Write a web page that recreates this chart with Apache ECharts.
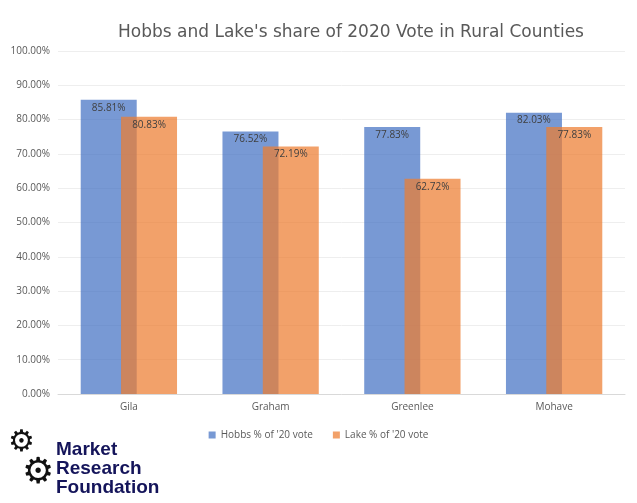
<!DOCTYPE html>
<html><head><meta charset="utf-8">
<script src="https://cdn.jsdelivr.net/npm/echarts@6/dist/echarts.min.js"></script>
<style>html,body{margin:0;padding:0;background:#fff}#c{width:637px;height:503px}</style>
</head><body><div id="c"></div>
<script>
const categories = ['Gila','Graham','Greenlee','Mohave'];
const hobbs = [85.81, 76.52, 77.83, 82.03];
const lake = [80.83, 72.19, 62.72, 77.83];
const chart = echarts.init(document.getElementById('c'));
const lbl = {show:true, position:'insideTop', distance:3, color:'#404040', fontSize:10, fontFamily:'Open Sans', formatter:p=>p.value.toFixed(2)+'%'};
chart.setOption({
  animation:false,
  title:{text:"Hobbs and Lake's share of 2020 Vote in Rural Counties", left:346, textAlign:'center', top:19,
    textStyle:{fontSize:17, fontWeight:'normal', color:'#595959', fontFamily:'DejaVu Sans'}},
  grid:{left:58, right:12, top:51, bottom:109, containLabel:false},
  legend:{bottom:58, left:'center', itemWidth:7, itemHeight:7, itemGap:20, icon:'rect',
    textStyle:{fontSize:10, color:'#595959', fontFamily:'Open Sans'}},
  xAxis:{type:'category', data:categories, axisTick:{show:false},
    axisLine:{lineStyle:{color:'#d9d9d9'}}, axisLabel:{color:'#595959', fontSize:10, fontFamily:'Open Sans'}},
  yAxis:{type:'value', min:0, max:100, interval:10, axisLabel:{formatter:v=>v.toFixed(2)+'%', color:'#595959', fontSize:10, fontFamily:'Open Sans'},
    splitLine:{lineStyle:{color:'#eeeeee'}}},
  series:[
    {name:"Hobbs % of '20 vote", type:'bar', data:hobbs, barWidth:56, barGap:'-28%', itemStyle:{color:'rgba(68,114,196,0.72)'}, label:lbl},
    {name:"Lake % of '20 vote", type:'bar', data:lake, barWidth:56, itemStyle:{color:'rgba(237,125,49,0.72)'}, label:lbl}
  ],
  graphic:[
    {type:'text', left:8, top:428, style:{text:'⚙', fontSize:30, fill:'#111'}},
    {type:'text', left:22, top:455, style:{text:'⚙', fontSize:36, fill:'#111'}},
    {type:'text', left:56, top:440, style:{text:'Market\nResearch\nFoundation', fontSize:19, lineHeight:19, fontWeight:900, fill:'#14145a', fontFamily:'Liberation Sans Narrow, Liberation Sans'}}
  ]
});
</script></body></html>
